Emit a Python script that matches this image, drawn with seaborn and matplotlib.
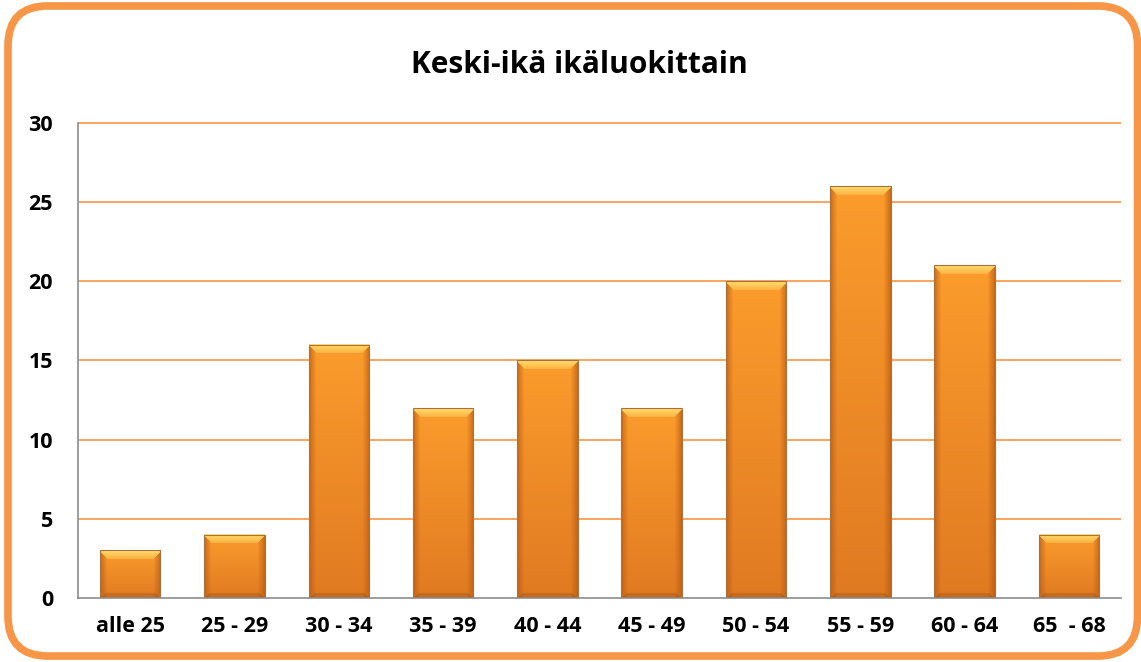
import numpy as np
import pandas as pd
import matplotlib
matplotlib.use("Agg")
import matplotlib.pyplot as plt
from matplotlib.patches import FancyBboxPatch
from matplotlib.colors import to_rgb
import seaborn as sns

# Chart data
categories = ["alle 25", "25 - 29", "30 - 34", "35 - 39", "40 - 44",
              "45 - 49", "50 - 54", "55 - 59", "60 - 64", "65  - 68"]
counts = [3, 4, 16, 12, 15, 12, 20, 26, 21, 4]
yticks = [0, 5, 10, 15, 20, 25, 30]

df = pd.DataFrame({"luokka": categories, "lkm": counts})

sns.set_style("white")
plt.rcParams["font.family"] = ["Open Sans", "DejaVu Sans"]
plt.rcParams["text.color"] = "black"
plt.rcParams["xtick.color"] = "black"
plt.rcParams["ytick.color"] = "black"

fig = plt.figure(figsize=(11.41, 6.62), dpi=100)
ax = fig.add_axes([0.0684, 0.0967, 0.9141, 0.7175])

# outer rounded orange frame
frame = FancyBboxPatch((0.007, 0.009), 0.99, 0.982,
                       boxstyle="round,pad=0,rounding_size=0.035",
                       transform=fig.transFigure, facecolor="none",
                       edgecolor="#F79646", linewidth=5.5, zorder=0,
                       mutation_aspect=1141 / 662)
fig.patches.append(frame)

# gridlines (orange)
ax.hlines(yticks[1:], -0.5, len(categories) - 0.5, color="#F79646",
          linewidth=1.2, zorder=1, clip_on=False)

sns.barplot(data=df, x="luokka", y="lkm", color="#F7941E", width=0.58,
            saturation=1, edgecolor="#A8703A", linewidth=0.8, ax=ax, zorder=3)

ax.set_xlim(-0.5, len(categories) - 0.5)
ax.set_ylim(0, 30)

# bevelled gradient fill drawn over each bar
top_c = np.array(to_rgb("#FB9C2C"))
bot_c = np.array(to_rgb("#E07A22"))
hi_c = np.array(to_rgb("#FFE070"))
side_c = np.array(to_rgb("#B85A12"))
px_per_unit = 475 / 30
for p in ax.patches:
    x0, w, h = p.get_x(), p.get_width(), p.get_height()
    nx = 60
    ny = max(int(h * px_per_unit), 10)
    yy, xx = np.mgrid[0:ny, 0:nx]
    t = yy / (ny - 1)
    img = top_c * (1 - t[..., None]) + bot_c * t[..., None]
    dl, dr, dt, db = xx, nx - 1 - xx, yy, ny - 1 - yy
    bev = 7.0
    dside = np.minimum(dl, dr)
    # sides
    m = (dside < bev) & (dside <= dt)
    a = (1 - dside / bev)[..., None] * 0.7
    img = np.where(m[..., None], img * (1 - a) + side_c * a, img)
    # top highlight
    m = (dt < 9) & (dt < dside + 2)
    a = (1 - 0.7 * dt / 9)[..., None] * 0.95
    img = np.where(m[..., None], img * (1 - a) + hi_c * a, img)
    # bottom darker strip
    m = (db < 5) & (db < dside)
    img = np.where(m[..., None], img * 0.88, img)
    ax.imshow(np.clip(img, 0, 1), extent=(x0, x0 + w, 0, h), origin="upper",
              aspect="auto", zorder=4, interpolation="nearest")
    p.set_zorder(5)
    p.set_facecolor("none")

ax.set_xlim(-0.5, len(categories) - 0.5)
ax.set_ylim(0, 30)
ax.set_yticks(yticks)

for s in ["top", "right"]:
    ax.spines[s].set_visible(False)
ax.spines["left"].set_color("#8C8C8C")
ax.spines["bottom"].set_color("#8C8C8C")
ax.spines["left"].set_linewidth(1.2)
ax.spines["bottom"].set_linewidth(1.2)
ax.spines["bottom"].set_zorder(6)

ax.set_xlabel("")
ax.set_ylabel("")
ax.tick_params(axis="both", length=0, labelsize=15.5)
ax.tick_params(axis="x", pad=13)
ax.tick_params(axis="y", pad=18)
for lab in ax.get_xticklabels() + ax.get_yticklabels():
    lab.set_fontweight("bold")
for lab in ax.get_yticklabels():
    lab.set_horizontalalignment("right")

fig.text(0.508, 0.902, "Keski-ikä ikäluokittain", ha="center", va="center",
         fontsize=21.5, fontweight="bold")

fig.savefig("out.png", dpi=100)
